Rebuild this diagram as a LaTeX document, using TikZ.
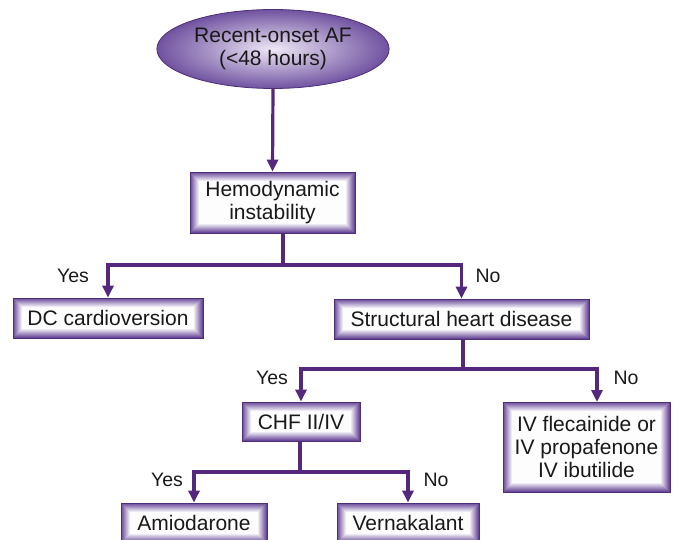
\documentclass[tikz,border=0pt]{standalone}
\usepackage{fontspec}
\setmainfont{Liberation Sans}
\usetikzlibrary{arrows.meta,shapes.geometric}

\definecolor{flow}{RGB}{84,40,124}
\definecolor{bevel}{RGB}{104,72,152}
\definecolor{rim}{RGB}{78,46,118}
\definecolor{ovalin}{RGB}{238,232,246}
\definecolor{ovalout}{RGB}{112,82,160}

\tikzset{
  bevelbox/.style={rectangle, draw=rim, line width=0.8pt, inner sep=0pt,
    font=\fontsize{21}{23}\selectfont, align=center, text=black!90,
    path picture={
      \foreach \i [evaluate=\i as \p using int(100-\i*11)] in {0,...,9}{
        \fill[bevel!\p!white]
          ([shift={(\i*1.05pt,-\i*1.05pt)}]path picture bounding box.north west)
          rectangle
          ([shift={(-\i*1.05pt,\i*1.05pt)}]path picture bounding box.south east);
      }
    }},
  oval/.style={ellipse, draw=rim, line width=0.8pt, inner color=ovalin,
    outer color=ovalout, font=\fontsize{21}{23}\selectfont, align=center,
    text=black!90},
  lbl/.style={font=\fontsize{19.5}{22}\selectfont, text=black!90, inner sep=0pt},
  conn/.style={draw=flow, line width=3.2pt},
  arr/.style={conn, -{Triangle[width=11pt,length=12pt]}}
}

\begin{document}
\begin{tikzpicture}[x=1pt,y=-1pt]
  \useasboundingbox (0,0) rectangle (675,540);

  % decision nodes and treatments
  \node[oval, minimum width=197pt, minimum height=79pt] (af) at (273,49)
    {Recent-onset AF\\(<48 hours)};
  \node[bevelbox, minimum width=165pt, minimum height=61pt] (hemo) at (272.5,202.5)
    {Hemodynamic\\instability};
  \node[bevelbox, minimum width=190pt, minimum height=40pt] (dc) at (108,318)
    {DC cardioversion};
  \node[bevelbox, minimum width=255pt, minimum height=40pt] (shd) at (461.5,319)
    {Structural heart disease};
  \node[bevelbox, minimum width=118pt, minimum height=39pt] (chf) at (301,421.5)
    {CHF II/IV};
  \node[bevelbox, minimum width=167pt, minimum height=90pt] (iv) at (586.5,447)
    {IV flecainide or\\IV propafenone\\IV ibutilide};
  \node[bevelbox, minimum width=146pt, minimum height=40pt] (amio) at (194,523)
    {Amiodarone};
  \node[bevelbox, minimum width=142pt, minimum height=40pt] (vern) at (408,523)
    {Vernakalant};

  % branch labels
  \node[lbl] (y1) at (73,276) {Yes};
  \node[lbl] (n1) at (488,276) {No};
  \node[lbl] (y2) at (272,378) {Yes};
  \node[lbl] (n2) at (626,378) {No};
  \node[lbl] (y3) at (167,480) {Yes};
  \node[lbl] (n3) at (436,480) {No};

  % branch junctions
  \coordinate (j1) at (283,265);
  \coordinate (j2) at (463,369);
  \coordinate (j3) at (300,472);
  \coordinate (ivin) at (597,402);

  % connectors
  \draw[arr] (af.south) -- (hemo.north);
  \draw[conn] (hemo.south -| j1) -- (j1);
  \draw[arr] (j1) -| (dc.north);
  \draw[arr] (j1) -| (shd.north);
  \draw[conn] (shd.south -| j2) -- (j2);
  \draw[arr] (j2) -| (chf.north);
  \draw[arr] (j2) -| (ivin);
  \draw[conn] (chf.south -| j3) -- (j3);
  \draw[arr] (j3) -| (amio.north);
  \draw[arr] (j3) -| (vern.north);
\end{tikzpicture}
\end{document}
